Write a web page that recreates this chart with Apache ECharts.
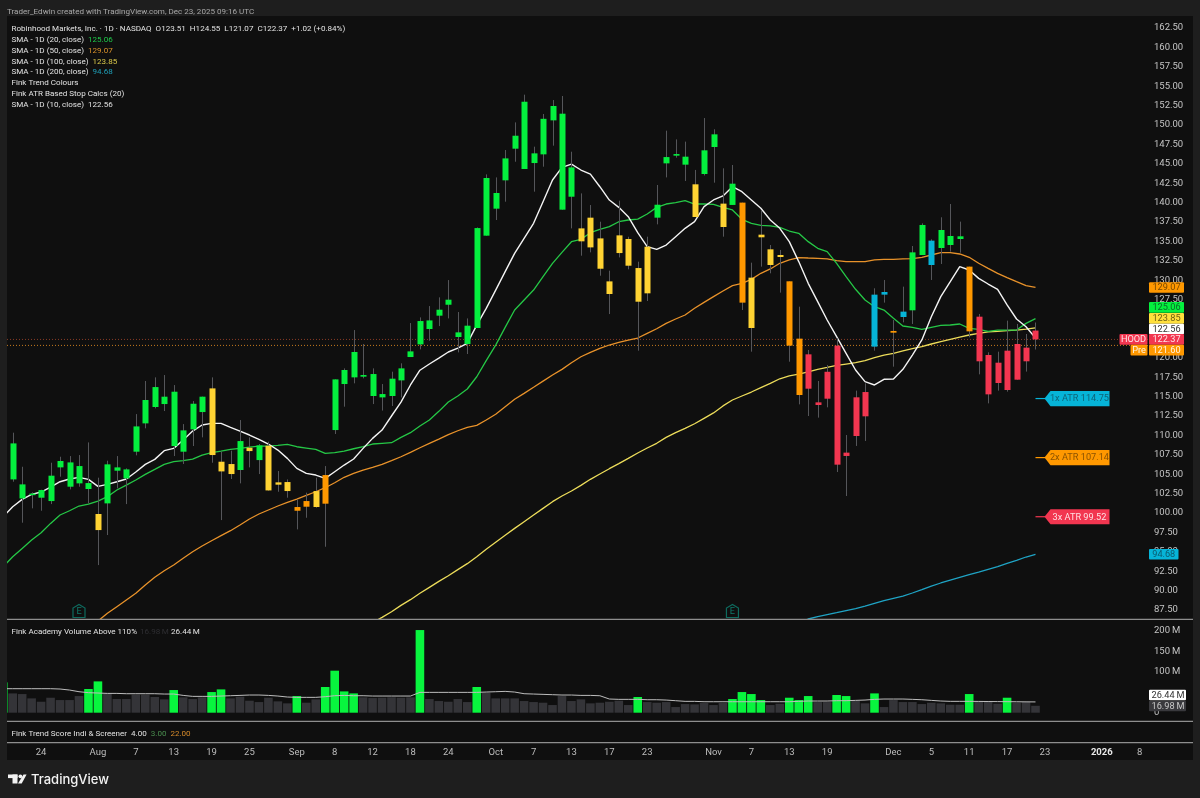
<!DOCTYPE html>
<html>
<head>
<meta charset="utf-8">
<title>HOOD 1D</title>
<style>
  html, body { margin: 0; padding: 0; background: #1e1e1e; }
  #chart { width: 1200px; height: 798px; }
</style>
<script src="https://cdn.jsdelivr.net/npm/echarts@6/dist/echarts.min.js"></script>
</head>
<body>
<div id="chart"></div>
<script>
/*
 * Daily sessions, bar 0 is Jul 21 2025 and bar 108 is Dec 22 2025
 */
var openPrices = [104.33, 101.88, 102.3, 101.97, 101.54, 105.88, 103.39, 103.82, 103.09, 99.87,
  101.24, 105.45, 104.46, 107.9, 111.55, 113.66, 114.04, 108.63, 107.9, 110.78,
  113.01, 116.06, 106.61, 106.31, 105.54, 108.41, 106.82, 108.67, 103.95, 103.99,
  100.77, 101.54, 100.77, 101.2, 110.69, 116.62, 117.48, 117.57, 115.08, 114.9,
  115.08, 117.09, 120.1, 121.73, 123.71, 125.43, 126.84, 122.68, 121.77, 123.84,
  135.74, 139.22, 142.87, 146.95, 144.33, 145.1, 146.22, 150.6, 139.09, 140.76,
  136.68, 138.06, 135.39, 129.85, 135.78, 135.31, 131.57, 134.32, 138.06, 145.06,
  146.05, 144.89, 142.36, 143.69, 147.17, 139.87, 139.7, 140, 130.33, 135.87,
  133.98, 133.25, 129.86, 122.47, 120.45, 114.26, 118.2, 121.57, 107.78, 114.91,
  115.59, 128.14, 128.48, 123.46, 125.26, 126.12, 133.25, 135.1, 134.15, 134.54,
  135.31, 131.75, 125.3, 120.36, 119.37, 120.92, 121.78, 121.31, 123.51];
var highPrices = [110.35, 105.96, 102.66, 103, 106.48, 107.25, 107.34, 107.47, 109.1, 104.55,
  106.74, 107.34, 105.75, 112.75, 117.01, 117.48, 117.78, 116.49, 111.46, 114.43,
  115, 117.48, 107.9, 108.03, 111.98, 109.75, 108.89, 109.19, 105.41, 104.33,
  101.76, 102.62, 104.55, 106.05, 117.22, 118.64, 123.58, 121.78, 118.64, 116.62,
  118.21, 119.29, 124.48, 125.21, 126.67, 127.79, 130.02, 125.9, 125.08, 136.8,
  143.64, 143.25, 146.78, 150.34, 153.91, 147.21, 151.42, 153.22, 153.74, 146.56,
  141.19, 139.69, 137.54, 131.23, 140.25, 135.6, 132.39, 135.61, 142.27, 149.27,
  148.15, 147.86, 144.21, 150.9, 149.45, 144.42, 144.85, 140, 132.26, 139.05,
  134.54, 133.9, 129.86, 126.59, 121.01, 117.01, 119.07, 122.51, 110.05, 115.77,
  116.71, 128.96, 130.03, 124.87, 129.17, 134.41, 137.33, 135.27, 138.11, 139.82,
  137.55, 131.75, 125.65, 120.71, 120.79, 124.79, 124.36, 123.07, 124.55];
var lowPrices = [104.03, 98.75, 100.6, 100.29, 101.15, 104.68, 103.04, 103.39, 101.24, 93.29,
  97.16, 103.17, 101.15, 107.43, 110.91, 113.48, 113.14, 107.34, 106.31, 108.63,
  109.75, 106.48, 99.09, 104.38, 103.82, 105.88, 105.02, 102.87, 102.74, 101.97,
  97.89, 99.39, 100.68, 95.65, 110.18, 113.7, 116.71, 117.35, 114.04, 113.2,
  113.79, 114.9, 120.1, 121.09, 122.2, 124.09, 125.08, 120.7, 120.49, 123.84,
  135.74, 137.76, 140.12, 145.27, 144.33, 141.41, 144.63, 147.34, 139.09, 136.68,
  133.16, 133.59, 130.58, 125.64, 132.94, 131.4, 120.92, 127.32, 137.2, 143.25,
  145.79, 142.79, 138.15, 143.5, 142.57, 135.61, 139.7, 126.16, 120.79, 131.75,
  130.89, 128.4, 119.5, 114, 112.5, 112.29, 113.62, 105.28, 102.19, 108.64,
  109.28, 120.92, 127.11, 118.86, 124.57, 124.36, 133.25, 130.03, 132.09, 133.68,
  133.55, 122.64, 117.87, 114.13, 115.77, 115.64, 117.18, 118.22, 121.07];
var closePrices = [108.97, 103.69, 102.5, 102.96, 104.81, 106.7, 106.52, 106.05, 103.86, 97.8,
  106.27, 105.88, 105.62, 111.16, 114.56, 116.23, 114.99, 115.63, 110.65, 114.08,
  114.99, 107.47, 105.36, 105.02, 109.27, 107.98, 108.71, 102.91, 103.65, 102.83,
  100.29, 100.81, 102.83, 104.89, 117.22, 118.43, 120.75, 117.78, 117.91, 115.33,
  117.31, 118.64, 120.83, 124.74, 124.82, 126.2, 127.49, 123.28, 124.14, 136.72,
  143.17, 141.24, 145.7, 148.62, 153, 146.35, 150.8, 152.45, 151.46, 144.54,
  135.01, 134.23, 131.48, 128.22, 133.5, 131.87, 127.23, 128.31, 139.73, 145.87,
  146.26, 145.92, 138.15, 146.74, 148.8, 136.86, 142.44, 127.11, 123.84, 135.53,
  131.96, 132.99, 121.57, 115.21, 116.02, 113.92, 114.73, 106.23, 107.35, 109.92,
  112.46, 121.44, 128.14, 123.24, 125.95, 133.59, 137.12, 131.96, 136.47, 135.7,
  135.66, 123.41, 119.55, 115.29, 116.75, 115.85, 117.18, 119.55, 122.37];

// Fink trend colour of each bar: 0 up, 1 pullback, 2 weak, 3 down, 4 turning
var trendState = [0, 0, 0, 0, 0, 0, 0, 0, 0, 1,
  0, 0, 0, 0, 0, 0, 0, 0, 0, 0,
  0, 1, 1, 1, 0, 1, 0, 1, 1, 1,
  2, 2, 1, 2, 0, 0, 0, 0, 0, 0,
  0, 0, 0, 0, 0, 0, 0, 0, 0, 0,
  0, 0, 0, 0, 0, 0, 0, 0, 0, 0,
  1, 1, 1, 1, 1, 1, 1, 1, 0, 0,
  0, 0, 1, 0, 0, 1, 0, 2, 1, 1,
  1, 1, 2, 2, 3, 3, 3, 3, 3, 3,
  3, 4, 4, 2, 4, 0, 0, 4, 0, 0,
  0, 2, 3, 3, 3, 3, 3, 3, 3];

// moving averages, each one starts at the bar named next to it
var sma10First = -1;
var sma10 = [99.52, 100.81, 101.75, 102.4, 102.7, 103.34, 104.03, 104.38, 104.59, 104.33, 103.43,
  103.69, 104.03, 104.38, 105.28, 106.27, 106.91, 108.03, 108.33, 109.4, 110.56,
  111.34, 111.55, 111.55, 111.03, 110.56, 110.05, 109.49, 108.89, 108.11, 107.04,
  105.75, 105.1, 104.89, 104.46, 105.32, 106.18, 106.96, 108.33, 109.62, 110.69,
  112.5, 114.3, 116.5, 118.4, 119.2, 119.97, 120.75, 121.26, 121.86, 124.22,
  126.37, 128.73, 131.1, 133.46, 135.39, 137.33, 140.12, 142.91, 144.54, 144.97,
  144.2, 143.68, 142.05, 140.33, 139.39, 138.19, 136.12, 134.32, 133.98, 134.53,
  135.61, 136.69, 137.55, 139.48, 140.34, 140.86, 142.06, 141.41, 140.34, 139.27,
  137.76, 136.69, 134.97, 132.4, 129.6, 127.24, 124.87, 122.73, 120.58, 118.43,
  116.93, 116.5, 117.23, 117.27, 118.52, 120.36, 122.3, 125.3, 127.88, 129.81,
  131.75, 131.32, 130.24, 129.51, 128.83, 126.81, 125, 124.01, 122.56];
var sma20First = -1;
var sma20 = [93.08, 94.37, 95.44, 96.51, 97.46, 98.66, 99.74, 100.29, 100.9, 101.15, 101.54,
  102.1, 102.96, 103.6, 104.25, 104.98, 105.62, 106.27, 106.61, 106.74, 106.95,
  107.47, 107.77, 107.98, 108.2, 108.33, 108.5, 108.63, 108.63, 108.71, 108.84,
  108.54, 108.37, 108.2, 107.68, 107.77, 107.98, 108.28, 108.54, 108.89, 108.98,
  109.06, 109.75, 110.35, 111.21, 111.98, 113.1, 114.3, 115.08, 115.98, 117.56,
  119.63, 121.64, 123.92, 126.16, 127.45, 128.73, 130.45, 132.17, 133.59, 134.96,
  135.26, 136.12, 136.55, 136.9, 137.54, 137.76, 137.88, 138.53, 139.39, 139.82,
  139.99, 140.25, 139.82, 139.82, 139.78, 139.39, 139.05, 137.85, 137.33, 137.07,
  136.99, 136.82, 136.34, 136.04, 134.97, 134.11, 133.68, 132.18, 130.46, 128.83,
  127.45, 126.59, 126.16, 125.09, 124.1, 123.93, 123.67, 123.93, 124.19, 124.23,
  124.36, 123.8, 123.67, 123.41, 123.58, 123.58, 123.58, 124.44, 125.06];
var sma50First = 8;
var sma50 = [85.27, 86.08, 87.07, 87.93, 88.79, 89.65, 90.72, 91.71, 92.56, 93.3,
  94.16, 95.01, 95.75, 96.43, 97.08, 97.72, 98.45, 99.23, 99.87, 100.39,
  100.9, 101.38, 101.8, 102.28, 102.74, 103.26, 103.9, 104.6, 105.11, 105.54,
  105.89, 106.27, 106.74, 107.25, 107.82, 108.41, 108.98, 109.53, 110.09, 110.6,
  111.04, 111.3, 111.98, 112.72, 113.7, 114.65, 115.42, 116.2, 117, 117.78,
  118.51, 119.37, 120.14, 120.7, 121.22, 121.65, 121.99, 122.29, 122.55, 123.15,
  123.75, 124.44, 125, 125.52, 126.38, 127.15, 127.88, 128.61, 129.3, 129.6,
  130.11, 130.89, 131.45, 132.18, 132.61, 132.91, 132.86, 132.82, 132.74, 132.52,
  132.39, 132.39, 132.39, 132.61, 132.69, 132.69, 132.74, 132.78, 132.95, 133.25,
  133.55, 133.55, 133.38, 132.95, 132.18, 131.53, 130.89, 130.33, 129.81, 129.3, 129.07];
var sma100First = 38;
var sma100 = [85.86, 86.55, 87.28, 88.1, 88.83, 89.65, 90.42, 91.19, 91.92, 92.7,
  93.47, 94.37, 95.32, 96.22, 97.12, 98.02, 98.88, 99.74, 100.6, 101.46,
  102.19, 102.83, 103.56, 104.34, 105.03, 105.71, 106.36, 107.04, 107.73, 108.38,
  108.98, 109.75, 110.35, 110.9, 111.5, 112.2, 112.9, 113.8, 114.56, 115.08,
  115.59, 116.15, 116.71, 117.3, 117.66, 117.91, 118.2, 118.52, 118.77, 119.03,
  119.2, 119.37, 119.63, 120.02, 120.36, 120.58, 120.88, 121.18, 121.44, 121.78,
  122.08, 122.38, 122.68, 122.94, 123.15, 123.33, 123.41, 123.5, 123.58, 123.71, 123.85];
var sma200First = 83;
var sma200 = [85.9, 86.34, 86.64, 86.9, 87.15, 87.41, 87.67, 88.01, 88.36, 88.7,
  89, 89.3, 89.69, 90.12, 90.59, 90.98, 91.36, 91.71, 92.05, 92.39,
  92.74, 93.08, 93.51, 93.9, 94.33, 94.68];

// volume in millions, starts one bar left of the first session
var volumeFirst = -1;
var volume = [74.3, 47.3, 45.7, 35.1, 26.9, 36.7, 31, 31, 40.8, 58, 76.7,
  47.3, 33.5, 33.5, 44.1, 44.1, 38.4, 32.7, 55.5, 37.6, 33.5,
  37.6, 50.6, 57.1, 35.1, 39.2, 29.4, 26.1, 36.7, 27.8, 22.9,
  40.8, 24.5, 32.7, 62.9, 102.9, 52.2, 47.3, 37.6, 35.9, 36.7,
  37.6, 36.7, 37.6, 202.4, 33.5, 28.6, 26.9, 33.5, 26.1, 62.9,
  49, 35.1, 35.1, 35.1, 28.6, 26.1, 24.5, 18.8, 40.8, 28.6,
  32.7, 22.9, 24.5, 26.9, 29.4, 18.8, 38.4, 26.1, 24.5, 26.1,
  13.9, 21.2, 20.4, 23.7, 18.8, 23.7, 33.5, 50.6, 45.7, 31,
  18.8, 22, 36.7, 31, 40.8, 26.1, 26.1, 43.3, 40.8, 29.4,
  22.9, 47.3, 13.9, 31, 26.1, 26.1, 21.2, 24.5, 22.9, 19.6,
  19.6, 45.7, 28.6, 28.6, 22, 36.7, 24.5, 26.1, 16.98];
var volumeSma = [58.8, 58.8, 58.8, 58.8, 58.8, 58.8, 58, 55.5, 51.4, 49, 48.2,
  47.3, 47.3, 46.5, 46.5, 46.5, 46.5, 45.7, 45.7, 42.4, 40,
  40, 40, 40.8, 41.6, 42.4, 43.3, 43.3, 42.4, 40.8, 38.4,
  37.6, 37.6, 37.6, 39.2, 41.6, 42.4, 41.6, 41.6, 40.8, 40.8,
  40.8, 40.8, 40.8, 49.8, 49.8, 49.8, 49.8, 49.8, 49.8, 49.8,
  50.6, 51.4, 52.2, 50.6, 46.5, 45.7, 44.9, 44.1, 43.3, 43.3,
  42.4, 42.4, 41.6, 33.5, 32.7, 32.7, 32.7, 31.8, 31.8, 31,
  29.4, 27.8, 27.8, 26.9, 26.9, 26.9, 26.9, 26.9, 26.9, 26.9,
  26.9, 26.9, 26.9, 27.8, 28.6, 28.6, 28.6, 29.4, 29.4, 30.2,
  31, 32.7, 33.5, 33.5, 33.5, 32.7, 31.8, 30.2, 28.6, 27.8,
  27.8, 27.8, 27.6, 27.4, 27.2, 27, 26.8, 26.6, 26.44];
var volumeAboveBars = [-1, 8, 9, 17, 21, 22, 30, 33, 34, 35, 36, 43, 49, 66, 76, 77, 78, 79, 82, 83, 84, 87, 88, 91, 101, 105];

var dateTickBars = [3, 9, 13, 17, 21, 25, 30, 34, 38, 42, 46, 51, 55, 59, 63, 67, 74, 78, 82, 86, 93, 97, 101, 105, 109, 115, 119];
var dateTickLabels = ['24', 'Aug', '7', '13', '19', '25', 'Sep', '8', '12', '18', '24', 'Oct', '7', '13', '17', '23', 'Nov', '7', '13', '19', 'Dec', '5', '11', '17', '23', '2026', '8'];
var priceTicks = [162.5, 160, 157.5, 155, 152.5, 150, 147.5, 145, 142.5, 140, 137.5, 135, 132.5, 130, 127.5, 125, 122.5, 120,
  117.5, 115, 112.5, 110, 107.5, 105, 102.5, 100, 97.5, 95, 92.5, 90, 87.5];
var volumeTicks = [200, 150, 100, 0];

var earningsBars = [7, 76];

var lastPrice = 122.37;
var prePrice = 121.6;
var tagPrices = [129.07, 125.06, 123.85, 122.56, 122.37, 121.6, 94.68];
var atrNames = ['1x ATR', '2x ATR', '3x ATR'];
var atrPrices = [114.75, 107.14, 99.52];
var volumeTagValues = [26.44, 16.98];

// styles
var trendColours = ['#04f03e', '#ffd333', '#ff9800', '#f23650', '#06b4d8'];
var tagStyles = [
  { bg: '#ff9800', fg: '#7a4a00', shift: 0 },
  { bg: '#04f03e', fg: '#0a6b2a', shift: -11.2 },
  { bg: '#ffdf3c', fg: '#6e5f10', shift: -9.6 },
  { bg: '#ffffff', fg: '#333333', shift: -8.9 },
  { bg: '#f23650', fg: '#ffe3e6', shift: 0, name: 'HOOD', nameWidth: 28 },
  { bg: '#ff9800', fg: '#fff3e0', shift: 4.7, name: 'Pre', nameWidth: 17 },
  { bg: '#06b4d8', fg: '#0b5a6e', shift: 0, width: 29.5 }
];
var atrStyles = [
  { bg: '#06b4d8', fg: '#0e6478' },
  { bg: '#ff9800', fg: '#8a5200' },
  { bg: '#f23650', fg: '#ffdfe3' }
];
var uiFont = 'Roboto, "Noto Sans", sans-serif';
var legendFont = '8.05px ' + uiFont;

var xMin = -0.602;
var xMax = 119.88;
var mainMin = 86.34;
var mainMax = 164.05;

function bars(values, first) {
  return values.map(function (v, i) { return [first + i, v]; });
}

function candleData() {
  return openPrices.map(function (o, i) {
    return [i, o, highPrices[i], lowPrices[i], closePrices[i], trendState[i]];
  });
}

function renderCandle(params, api) {
  var bar = api.value(0);
  var open = api.coord([bar, api.value(1)]);
  var high = api.coord([bar, api.value(2)]);
  var low = api.coord([bar, api.value(3)]);
  var close = api.coord([bar, api.value(4)]);
  var x = Math.round(open[0]);
  var top = Math.min(open[1], close[1]);
  var height = Math.max(Math.abs(open[1] - close[1]), 1.2);
  return {
    type: 'group',
    children: [{
      type: 'line',
      shape: { x1: x + 0.5, y1: high[1], x2: x + 0.5, y2: low[1] },
      style: { stroke: '#55565a', lineWidth: 1 }
    }, {
      type: 'rect',
      shape: { x: x - 2.5, y: top, width: 6, height: height },
      style: { fill: trendColours[api.value(5)] }
    }]
  };
}

function tagText(text, x, y, colour) {
  return {
    type: 'text',
    style: {
      text: text, x: x, y: y, fill: colour, align: 'center', verticalAlign: 'middle',
      textAlign: 'center', textVerticalAlign: 'middle',
      font: '9.2px ' + uiFont
    }
  };
}

function renderPriceTag(params, api) {
  var i = params.dataIndex;
  var tag = tagStyles[i];
  var y = api.coord([0, api.value(1)])[1] + tag.shift;
  var left = params.coordSys.x + params.coordSys.width + 1;
  var w = tag.width || 35;
  var kids = [{
    type: 'rect',
    shape: { x: left, y: y - 5.3, width: w, height: 10.6, r: 1 },
    style: { fill: tag.bg }
  }, tagText(api.value(1).toFixed(2), left + w / 2, y + 0.3, tag.fg)];
  if (tag.name) {
    kids.push({
      type: 'rect',
      shape: { x: left - 1.5 - tag.nameWidth, y: y - 5.3, width: tag.nameWidth, height: 10.6, r: 1 },
      style: { fill: tag.bg }
    });
    kids.push(tagText(tag.name, left - 1.5 - tag.nameWidth / 2, y + 0.3, tag.fg));
  }
  return { type: 'group', children: kids };
}

function renderAtrTag(params, api) {
  var i = params.dataIndex;
  var tag = atrStyles[i];
  var p = api.coord([108, api.value(1)]);
  var x = p[0], y = p[1];
  return {
    type: 'group',
    children: [{
      type: 'line',
      shape: { x1: x, y1: y, x2: x + 10, y2: y },
      style: { stroke: tag.bg, lineWidth: 1.2 }
    }, {
      type: 'polygon',
      shape: { points: [[x + 9, y], [x + 15, y - 7.6], [x + 74, y - 7.6], [x + 74, y + 7.6], [x + 15, y + 7.6]] },
      style: { fill: tag.bg }
    }, tagText(atrNames[i] + ' ' + api.value(1).toFixed(2), x + 44, y + 0.5, tag.fg)]
  };
}

function renderEarnings(params, api) {
  var x = api.coord([api.value(0), 0])[0];
  var bottom = params.coordSys.y + params.coordSys.height - 1.5;
  return {
    type: 'group',
    children: [{
      type: 'polygon',
      shape: { points: [[x - 6, bottom], [x - 6, bottom - 9.5], [x, bottom - 13], [x + 6, bottom - 9.5], [x + 6, bottom]] },
      style: { fill: 'none', stroke: '#0e6a5e', lineWidth: 1.2 }
    }, tagText('E', x, bottom - 5.5, '#0e7a6b')]
  };
}

function renderVolumeTag(params, api) {
  var i = params.dataIndex;
  var left = params.coordSys.x + params.coordSys.width + 1;
  var y = [695, 706][i];
  return {
    type: 'group',
    children: [{
      type: 'rect',
      shape: { x: left, y: y - 5.2, width: 37, height: 10.4, r: 1 },
      style: { fill: i === 0 ? '#ffffff' : '#39393d' }
    }, tagText(api.value(1).toFixed(2) + '\u2009M', left + 19, y + 0.3, i === 0 ? '#333333' : '#c8c8c8')]
  };
}

function smaSeries(name, values, first, colour, width) {
  return {
    name: name,
    type: 'line',
    xAxisIndex: 0,
    yAxisIndex: 0,
    data: bars(values, first),
    showSymbol: false,
    silent: true,
    z: 2,
    lineStyle: { color: colour, width: width }
  };
}

// dotted level across the pane
function levelSeries(name, price, colour) {
  return {
    name: name,
    type: 'line',
    xAxisIndex: 0,
    yAxisIndex: 0,
    data: [[xMin, price], [xMax, price]],
    showSymbol: false,
    silent: true,
    z: 1,
    lineStyle: { color: colour, width: 1, type: [1, 2] }
  };
}

function legendText(y, text, rich, x, colour) {
  return {
    type: 'text',
    silent: true,
    z: 20,
    style: {
      x: x === undefined ? 11.5 : x,
      y: y + 1.4,
      text: text,
      rich: rich,
      fill: colour || '#e2e2e2',
      font: legendFont,
      verticalAlign: 'middle',
      textVerticalAlign: 'middle'
    }
  };
}

function numColour(colour) {
  return { v: { fill: colour, font: legendFont } };
}

var graphicItems = [
  // chart panel on the lighter page
  { type: 'rect', silent: true, z: -10, shape: { x: 7, y: 16, width: 1186, height: 744 }, style: { fill: '#0f0f0f' } },
  // page margin covers the part of the first volume bar that sits left of the panel
  { type: 'rect', silent: true, z: 15, shape: { x: 0, y: 16, width: 7, height: 744 }, style: { fill: '#1e1e1e' } },
  // pane separators
  { type: 'rect', silent: true, z: 15, shape: { x: 7, y: 618.7, width: 1186, height: 1.3 }, style: { fill: '#8e8e8e' } },
  { type: 'rect', silent: true, z: 15, shape: { x: 7, y: 720.7, width: 1186, height: 1.3 }, style: { fill: '#8e8e8e' } },
  { type: 'rect', silent: true, z: 15, shape: { x: 7, y: 742, width: 1186, height: 1.3 }, style: { fill: '#8e8e8e' } },
  legendText(11, 'Trader_Edwin created with TradingView.com, Dec 23, 2025 09:16 UTC', null, 7, '#a8a8a8'),
  legendText(28, 'Robinhood Markets, Inc. · 1D · NASDAQ  O123.51  H124.55  L121.07  C122.37  +1.02 (+0.84%)'),
  legendText(38.8, 'SMA - 1D (20, close)  {v|125.06}', numColour('#1fc94a')),
  legendText(49.6, 'SMA - 1D (50, close)  {v|129.07}', numColour('#d8912a')),
  legendText(60.3, 'SMA - 1D (100, close)  {v|123.85}', numColour('#d9c84a')),
  legendText(71, 'SMA - 1D (200, close)  {v|94.68}', numColour('#1f9fb8')),
  legendText(81.7, 'Fink Trend Colours'),
  legendText(92.4, 'Fink ATR Based Stop Calcs (20)'),
  legendText(103.2, 'SMA - 1D (10, close)  {v|122.56}', numColour('#e2e2e2')),
  legendText(631, 'Fink Academy Volume Above 110%'),
  legendText(631, '16.98\u2009M', null, 140, '#2e2e32'),
  legendText(631, '26.44\u2009M', null, 171),
  legendText(732.7, 'Fink Trend Score Indi & Screener  4.00  {g|3.00}  {o|22.00}', {
    g: { fill: '#4a8f4f', font: legendFont },
    o: { fill: '#d68a2a', font: legendFont }
  }),
  // TradingView logo
  { type: 'rect', silent: true, z: 20, shape: { x: 8, y: 774.5, width: 9.5, height: 3.6 }, style: { fill: '#f2f2f2' } },
  { type: 'rect', silent: true, z: 20, shape: { x: 12.5, y: 774.5, width: 5, height: 9 }, style: { fill: '#f2f2f2' } },
  { type: 'circle', silent: true, z: 20, shape: { cx: 20.4, cy: 776.3, r: 1.9 }, style: { fill: '#f2f2f2' } },
  { type: 'polygon', silent: true, z: 20, shape: { points: [[23.5, 774.5], [26.6, 774.5], [21.7, 783.5], [18, 783.5]] }, style: { fill: '#f2f2f2' } },
  {
    type: 'text', silent: true, z: 20,
    style: {
      x: 31, y: 780, text: 'TradingView', fill: '#f2f2f2', font: '500 13px Inter, sans-serif',
      verticalAlign: 'middle', textVerticalAlign: 'middle'
    }
  }
];

function hiddenX(gridIndex) {
  return {
    type: 'value', gridIndex: gridIndex, min: xMin, max: xMax,
    axisLine: { show: false }, axisTick: { show: false }, axisLabel: { show: false }, splitLine: { show: false }
  };
}

var option = {
  backgroundColor: '#1e1e1e',
  animation: false,
  graphic: graphicItems,
  grid: [
    { left: 7, right: 52, top: 16, height: 603 },
    { left: 7, right: 52, top: 620, height: 101 },
    { left: 7, right: 52, top: 722, height: 21 }
  ],
  xAxis: [
    hiddenX(0),
    hiddenX(1),
    {
      type: 'value', gridIndex: 2, min: xMin, max: xMax,
      axisLine: { show: false }, axisTick: { show: false }, splitLine: { show: false },
      axisLabel: {
        customValues: dateTickBars,
        color: '#bdbdbd',
        fontFamily: 'Roboto',
        fontSize: 9.5,
        margin: 5,
        formatter: function (v) {
          var text = dateTickLabels[dateTickBars.indexOf(v)];
          return text === '2026' ? '{b|2026}' : text;
        },
        rich: { b: { fontWeight: 700, color: '#e8e8e8', fontSize: 9.5, fontFamily: 'Roboto' } }
      }
    }
  ],
  yAxis: [{
    type: 'value', gridIndex: 0, position: 'right', min: mainMin, max: mainMax,
    axisLine: { show: false }, axisTick: { show: false }, splitLine: { show: false },
    axisLabel: {
      customValues: priceTicks,
      color: '#c4c4c4',
      fontFamily: 'Roboto',
      fontSize: 9.5,
      margin: 6,
      padding: [2, 0, 0, 0],
      formatter: function (v) { return v.toFixed(2); }
    }
  }, {
    type: 'value', gridIndex: 1, position: 'right', min: -20.3, max: 227,
    axisLine: { show: false }, axisTick: { show: false }, splitLine: { show: false },
    axisLabel: {
      customValues: volumeTicks,
      color: '#c4c4c4',
      fontFamily: 'Roboto',
      fontSize: 9.5,
      margin: 6,
      padding: [2, 0, 0, 0],
      formatter: function (v) { return v ? v + '\u2009M' : '0'; }
    }
  }, {
    type: 'value', gridIndex: 2, min: 0, max: 1, show: false
  }],
  series: [
    levelSeries('Last', lastPrice, '#8a3c26'),
    levelSeries('Pre', prePrice, '#c67a1e'),
    smaSeries('SMA 200', sma200, sma200First, '#1fa3c4', 1.3),
    smaSeries('SMA 100', sma100, sma100First, '#ecdc5a', 1.3),
    smaSeries('SMA 50', sma50, sma50First, '#e8922a', 1.3),
    smaSeries('SMA 20', sma20, sma20First, '#25c746', 1.3),
    smaSeries('SMA 10', sma10, sma10First, '#f4f4f4', 1.4),
    {
      name: 'HOOD',
      type: 'custom',
      xAxisIndex: 0,
      yAxisIndex: 0,
      z: 3,
      clip: true,
      silent: true,
      renderItem: renderCandle,
      encode: { x: 0, y: [1, 2, 3, 4] },
      data: candleData()
    },
    {
      name: 'Earnings',
      type: 'custom',
      xAxisIndex: 0,
      yAxisIndex: 0,
      z: 4,
      silent: true,
      renderItem: renderEarnings,
      data: earningsBars.map(function (b) { return [b, mainMin]; })
    },
    {
      name: 'ATR stops',
      type: 'custom',
      xAxisIndex: 0,
      yAxisIndex: 0,
      z: 5,
      silent: true,
      clip: false,
      renderItem: renderAtrTag,
      data: atrPrices.map(function (p) { return [108, p]; })
    },
    {
      name: 'Price tags',
      type: 'custom',
      xAxisIndex: 0,
      yAxisIndex: 0,
      z: 6,
      silent: true,
      clip: false,
      renderItem: renderPriceTag,
      data: tagPrices.map(function (p) { return [108, p]; })
    },
    {
      name: 'Volume',
      type: 'bar',
      xAxisIndex: 1,
      yAxisIndex: 1,
      barWidth: 8.6,
      z: 2,
      silent: true,
      data: volume.map(function (v, i) {
        var bar = volumeFirst + i;
        return {
          value: [bar, v],
          itemStyle: { color: volumeAboveBars.indexOf(bar) >= 0 ? '#08f53e' : '#343438' }
        };
      })
    },
    {
      name: 'Volume SMA',
      type: 'line',
      xAxisIndex: 1,
      yAxisIndex: 1,
      z: 3,
      silent: true,
      showSymbol: false,
      lineStyle: { color: '#bdbdbd', width: 1 },
      data: bars(volumeSma, volumeFirst)
    },
    {
      name: 'Volume tags',
      type: 'custom',
      xAxisIndex: 1,
      yAxisIndex: 1,
      z: 6,
      silent: true,
      clip: false,
      renderItem: renderVolumeTag,
      data: volumeTagValues.map(function (v) { return [108, v]; })
    }
  ]
};

var chart = echarts.init(document.getElementById('chart'));
chart.setOption(option);
</script>
</body>
</html>
